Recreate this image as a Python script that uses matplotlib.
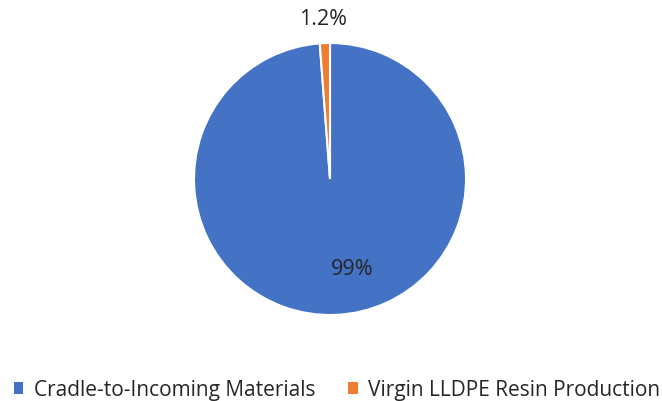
import matplotlib
matplotlib.use("Agg")
import matplotlib.pyplot as plt
from matplotlib.patches import Patch

categories = ["Cradle-to-Incoming Materials", "Virgin LLDPE Resin Production"]
values = [98.8, 1.2]
value_labels = ["99%", "1.2%"]
colors = ["#4472C4", "#ED7D31"]

plt.rcParams['font.family'] = ['Open Sans', 'DejaVu Sans']

fig = plt.figure(figsize=(6.62, 4.02), dpi=100)
W, H = 662, 402
cx, cy, r = 330, 180, 136
ax = fig.add_axes([(cx - r) / W, 1 - (cy + r) / H, 2 * r / W, 2 * r / H])
wedges, _ = ax.pie(values, colors=colors, startangle=90, counterclock=False,
                   radius=1.0, wedgeprops=dict(edgecolor="white", linewidth=1.5))
ax.set_xlim(-1, 1)
ax.set_ylim(-1, 1)
ax.set_aspect('equal')
ax.axis('off')

# data labels
ax.text(0.16, -0.66, value_labels[0], ha='center', va='center', fontsize=15.5, color='#262626')
ax.text(-0.05, 1.18, value_labels[1], ha='center', va='center', fontsize=15.5, color='#262626')

handles = [Patch(facecolor=c, edgecolor='none') for c in colors]
fig.legend(handles, categories, loc='center', bbox_to_anchor=(337 / W, 1 - 391 / H),
           ncol=2, frameon=False, fontsize=15, handlelength=0.45, handleheight=0.45,
           handletextpad=0.5, columnspacing=1.6, labelcolor='#262626')

fig.savefig("out.png", dpi=100)
